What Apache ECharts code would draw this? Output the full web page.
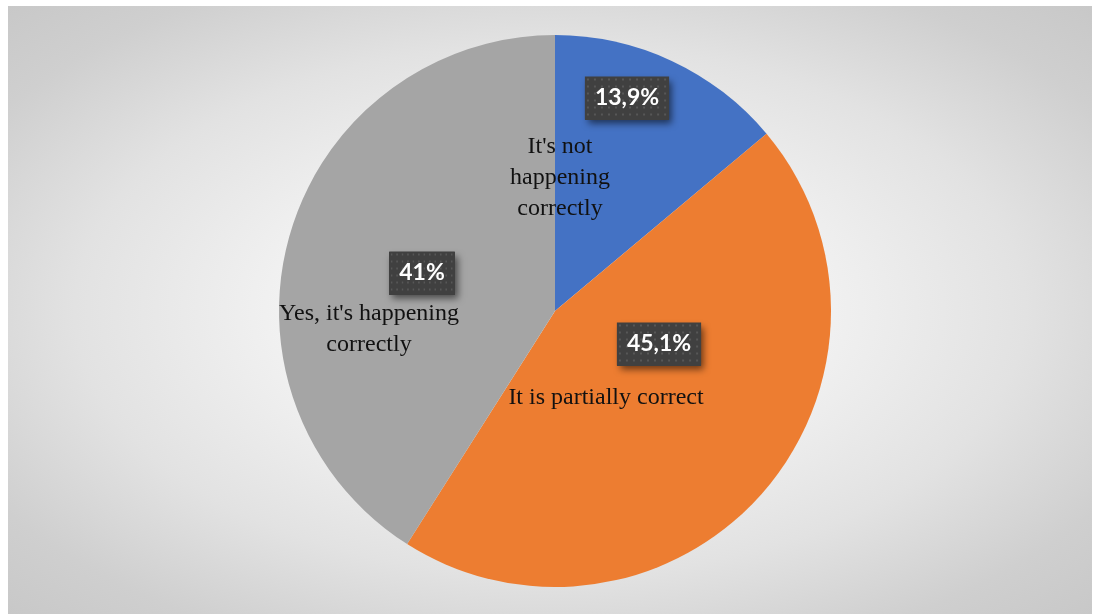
<!DOCTYPE html>
<html>
<head>
<meta charset="utf-8">
<script src="https://cdn.jsdelivr.net/npm/echarts@6/dist/echarts.min.js"></script>
<style>
  html, body { margin: 0; padding: 0; background: #ffffff; }
  #frame {
    position: absolute; left: 8px; top: 6px; width: 1084px; height: 608px;
    background: radial-gradient(ellipse farthest-corner at 50% 50%, #ffffff 0%, #f4f4f4 30%, #e2e2e2 62%, #cfcfcf 85%, #c8c8c8 100%);
  }
  #chart { position: absolute; left: 0; top: 0; width: 1093px; height: 614px; }
</style>
</head>
<body>
<div id="frame"></div>
<div id="chart"></div>
<script>
// Survey answers and their shares (percent)
const categories = ["It's not happening correctly", "It is partially correct", "Yes, it's happening correctly"];
const displayNames = ["It's not\nhappening\ncorrectly", "It is partially correct", "Yes, it's happening\ncorrectly"];
const shares = [13.9, 45.1, 41];
const colors = ['#4472C4', '#ED7D31', '#A5A5A5'];

// Pie geometry
const CX = 555, CY = 311, R = 276;
// Label anchors relative to the pie centre
const pctOffsets = [[72, -213], [104, 33], [-133, -38]];
const nameOffsets = [[5, -133], [51, 87], [-186, 18]];

// Dark dotted tile used behind the percentage labels
function dottedTile(w, h) {
  const c = document.createElement('canvas');
  c.width = w; c.height = h;
  const g = c.getContext('2d');
  g.fillStyle = '#404040';
  g.fillRect(0, 0, w, h);
  g.fillStyle = '#575757';
  for (let y = 2; y < h; y += 7) {
    for (let x = 2; x < w; x += 7) {
      g.fillRect(x, y, 2, 2);
    }
  }
  return c;
}
const tile = dottedTile(84, 43);

const fmtPct = v => String(v).replace('.', ',') + '%';

const pieData = categories.map((name, i) => ({
  name: name,
  value: shares[i],
  itemStyle: { color: colors[i] }
}));
const ghostData = pieData.map(d => ({ name: d.name, value: d.value, itemStyle: { color: 'rgba(0,0,0,0)' } }));

const pctFont = {
  fontFamily: 'Lato',
  fontWeight: 'bold',
  fontSize: 23,
  lineHeight: 26,
  padding: [9, 10, 8, 10]
};
const placeAt = offsets => p => ({
  x: CX + offsets[p.dataIndex][0],
  y: CY + offsets[p.dataIndex][1],
  align: 'center',
  verticalAlign: 'middle'
});
const basePie = {
  type: 'pie',
  center: [CX, CY],
  radius: R,
  startAngle: 90,
  clockwise: true,
  emphasis: { disabled: true },
  labelLine: { show: false }
};

const chart = echarts.init(document.getElementById('chart'), null, { renderer: 'canvas' });

chart.setOption({
  animation: false,
  series: [
    // slices, with the shadowed plate under each percentage
    Object.assign({}, basePie, {
      data: pieData,
      itemStyle: { borderWidth: 0 },
      label: Object.assign({
        show: true,
        position: 'inside',
        formatter: p => fmtPct(p.value),
        color: 'rgba(0,0,0,0)',
        backgroundColor: '#404040',
        shadowColor: 'rgba(0,0,0,0.55)',
        shadowBlur: 7,
        shadowOffsetX: 3,
        shadowOffsetY: 4
      }, pctFont),
      labelLayout: placeAt(pctOffsets)
    }),
    // dotted face and white percentage text
    Object.assign({}, basePie, {
      silent: true,
      data: ghostData,
      label: Object.assign({
        show: true,
        position: 'inside',
        formatter: p => fmtPct(p.value),
        color: '#ffffff',
        backgroundColor: { image: tile }
      }, pctFont),
      labelLayout: placeAt(pctOffsets)
    }),
    // category names
    Object.assign({}, basePie, {
      silent: true,
      data: ghostData,
      label: {
        show: true,
        position: 'inside',
        formatter: p => displayNames[p.dataIndex],
        color: '#111111',
        fontFamily: 'Liberation Serif',
        fontSize: 24,
        lineHeight: 31,
        align: 'center'
      },
      labelLayout: placeAt(nameOffsets)
    })
  ]
});
</script>
</body>
</html>
